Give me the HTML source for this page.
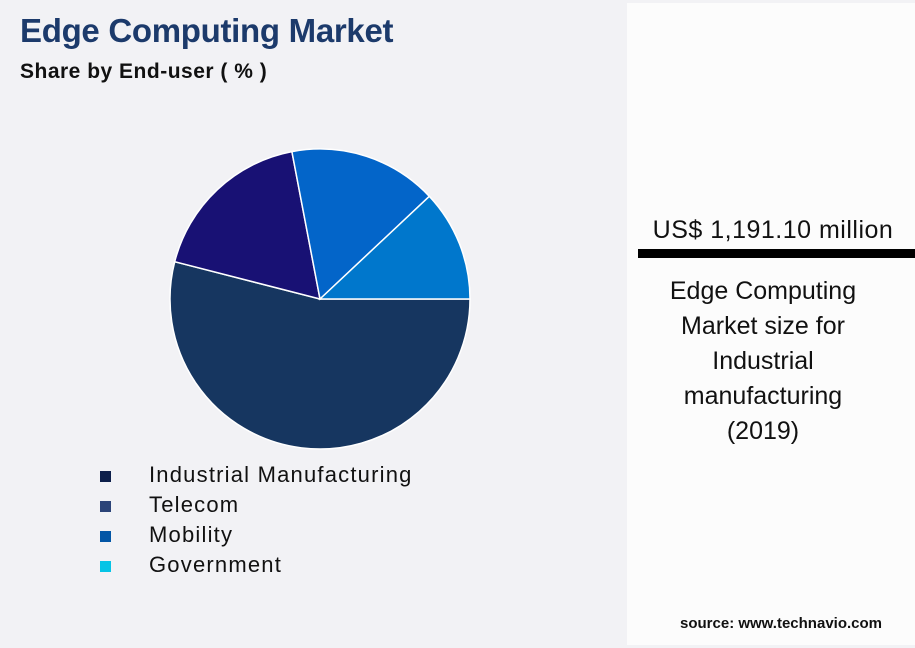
<!DOCTYPE html>
<html><head><meta charset="utf-8"><style>
body{margin:0;width:915px;height:648px;background:#f2f2f5;position:relative;overflow:hidden;font-family:"Liberation Sans",Arial,sans-serif}
.t{position:absolute;white-space:nowrap}
</style></head><body>
<div class="t" style="left:20px;top:12px;font-size:33px;font-weight:bold;color:#1c3a6b;letter-spacing:-0.3px">Edge Computing Market</div>
<div class="t" style="left:20px;top:60px;font-size:21px;font-weight:bold;color:#111;letter-spacing:0.5px">Share by End-user ( % )</div>
<svg id="pie" style="position:absolute;left:0;top:0" width="620" height="648"></svg>
<div>
<div class="t" style="left:100px;top:462px;font-size:22px;color:#111;letter-spacing:1.2px"><span style="display:inline-block;width:11px;height:11px;background:#0d1f4a;margin-right:38px;vertical-align:middle"></span>Industrial Manufacturing</div>
<div class="t" style="left:100px;top:492px;font-size:22px;color:#111;letter-spacing:1.2px"><span style="display:inline-block;width:11px;height:11px;background:#2c4478;margin-right:38px;vertical-align:middle"></span>Telecom</div>
<div class="t" style="left:100px;top:522px;font-size:22px;color:#111;letter-spacing:1.2px"><span style="display:inline-block;width:11px;height:11px;background:#0356a6;margin-right:38px;vertical-align:middle"></span>Mobility</div>
<div class="t" style="left:100px;top:552px;font-size:22px;color:#111;letter-spacing:1.2px"><span style="display:inline-block;width:11px;height:11px;background:#06c4e6;margin-right:38px;vertical-align:middle"></span>Government</div>
</div>
<div style="position:absolute;left:627px;top:3px;width:288px;height:642px;background:#fcfcfc"></div>
<div class="t" style="left:638px;top:216px;width:270px;text-align:center;font-size:25px;color:#111;letter-spacing:0.5px">US$ 1,191.10 million</div>
<div style="position:absolute;left:638px;top:249px;width:277px;height:9px;background:#000"></div>
<div class="t" style="left:627px;top:274px;width:272px;text-align:center;font-size:25px;line-height:35px;color:#111;white-space:normal">Edge Computing<br>Market size for<br>Industrial<br>manufacturing<br>(2019)</div>
<div class="t" style="left:680px;top:615px;font-size:15px;font-weight:bold;color:#111">source: www.technavio.com</div>
<script>
const categories=["Industrial Manufacturing","Telecom","Mobility","Government"];
const shares=[54,18,16,12];
const sliceColors=["#163660","#181174","#0365c9","#0077cc"];
const svg=document.getElementById('pie');
const cx=320,cy=299,r=150;
const total=shares.reduce((a,b)=>a+b,0);
function angleOf(v){return v/total*2*Math.PI;}
let a0=0;
shares.forEach((v,i)=>{
 const a1=a0+angleOf(v);
 const x0=cx+r*Math.cos(a0),y0=cy+r*Math.sin(a0),x1=cx+r*Math.cos(a1),y1=cy+r*Math.sin(a1);
 const large=(a1-a0)>Math.PI?1:0;
 const p=document.createElementNS('http://www.w3.org/2000/svg','path');
 p.setAttribute('d',`M${cx},${cy}L${x0},${y0}A${r},${r} 0 ${large} 1 ${x1},${y1}Z`);
 p.setAttribute('fill',sliceColors[i]);
 p.setAttribute('stroke','#fff');
 p.setAttribute('stroke-width','1.5');
 
 
 svg.appendChild(p);
 a0=a1;
});
</script>
</body></html>
